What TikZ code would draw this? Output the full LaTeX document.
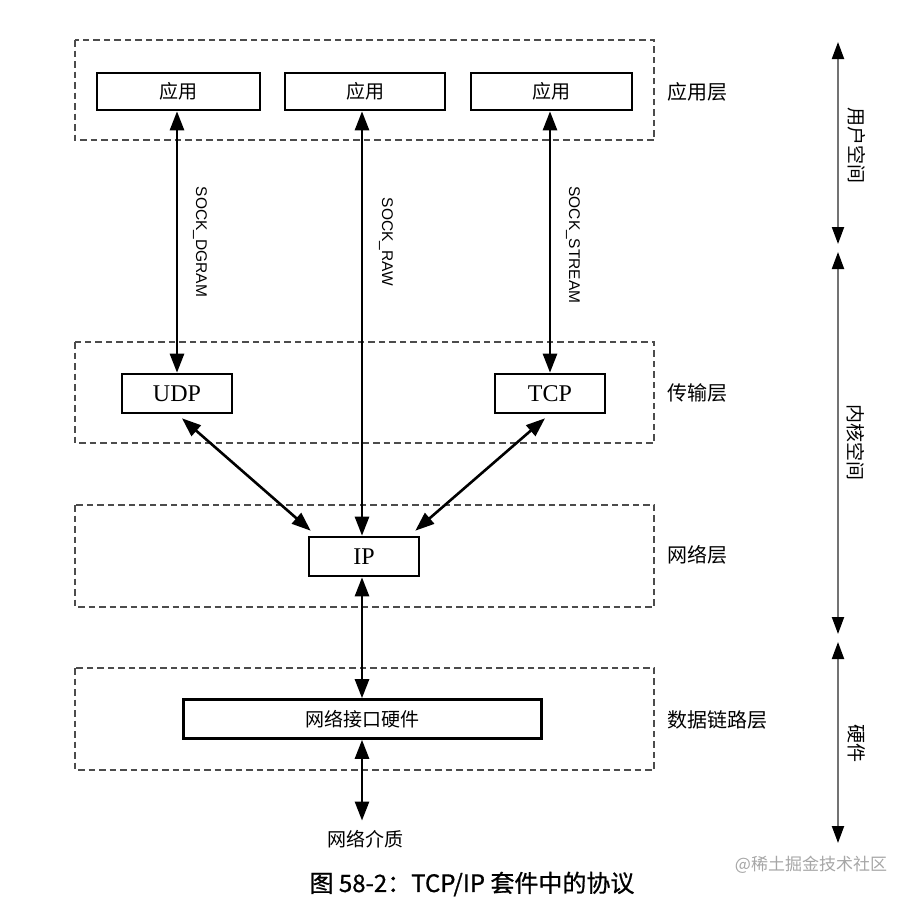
\documentclass[tikz,border=0pt]{standalone}
\usepackage{fontspec}
\setmainfont{Liberation Serif}
\newfontfamily\cjk{Noto Sans CJK SC}
\newfontfamily\cjkcap{Noto Sans CJK SC}[FakeBold=0.8]
\newfontfamily\sockf{Liberation Sans}
\usetikzlibrary{arrows.meta,calc}
\begin{document}
\begin{tikzpicture}[x=1pt,y=-1pt,
  layer/.style={draw=black!70, line width=1.3pt, dash pattern=on 6.5pt off 4pt},
  box/.style={draw, line width=2.6pt, inner sep=0pt, fill=white},
  cn/.style={font=\cjk\fontsize{19}{19}\selectfont},
  lat/.style={font=\fontsize{24}{24}\selectfont},
  sock/.style={font=\sockf\fontsize{15.5}{15.5}\selectfont, rotate=-90},
  lyr/.style={font=\cjk\fontsize{20}{20}\selectfont, anchor=west},
  side/.style={font=\cjk\fontsize{19}{19}\selectfont, rotate=-90},
  arr/.style={line width=2.6pt, {Triangle[length=19pt,width=14pt]}-{Triangle[length=19pt,width=14pt]}},
  garr/.style={line width=2pt, draw=black!55, {Triangle[length=17pt,width=12pt,color=black]}-{Triangle[length=17pt,width=12pt,color=black]}}
]
\useasboundingbox (0,0) rectangle (916,900);
% layers
\draw[layer] (75,40) rectangle (654,140);
\draw[layer] (75,342) rectangle (654,443);
\draw[layer] (75,505) rectangle (654,607);
\draw[layer] (75,668) rectangle (654,770);
% boxes
\node[box, cn, minimum width=163pt, minimum height=37pt] (app1) at (178.5,91.5) {应用};
\node[box, cn, minimum width=160pt, minimum height=37pt] (app2) at (365,91.5) {应用};
\node[box, cn, minimum width=161pt, minimum height=37pt] (app3) at (551.5,91.5) {应用};
\node[box, lat, minimum width=110pt, minimum height=39pt] (udp) at (177,393.5) {UDP};
\node[box, lat, minimum width=110pt, minimum height=39pt] (tcp) at (550,393.5) {TCP};
\node[box, lat, minimum width=110pt, minimum height=39pt] (ip) at (364,556.5) {IP};
\node[box, cn, minimum width=358pt, minimum height=39pt] (nic) at (362.5,719) {网络接口硬件};
\node[cn] (media) at (365,839) {网络介质};
% arrows
\draw[arr] (app1.south -| udp.north) -- (udp.north);
\draw[arr] (app2.south -| 362,0) -- (ip.north -| 362,0);
\draw[arr] (app3.south -| tcp.north) -- (tcp.north);
\draw[arr] ($(udp.south)+(5,4)$) -- ($(ip.north west)+(3,-5)$);
\draw[arr] ($(tcp.south)+(-5,4)$) -- ($(ip.north east)+(-5,-5)$);
\draw[arr] (ip.south -| 362,0) -- (nic.north -| 362,0);
\draw[arr] (nic.south -| 362,0) -- ($(media.north -| 362,0)+(0,-6)$);
% sock labels
\node[sock] (l1) at (200,242) {SOCK\_DGRAM};
\node[sock] (l2) at (386,242) {SOCK\_RAW};
\node[sock] (l3) at (573,245) {SOCK\_STREAM};
% layer labels
\node[lyr] (n1) at (664,92) {应用层};
\node[lyr] (n2) at (664,393) {传输层};
\node[lyr] (n3) at (664,555) {网络层};
\node[lyr] (n4) at (664,720) {数据链路层};
% side axis
\coordinate (s1a) at (838,42);
\coordinate (s1b) at (838,244);
\coordinate (s2a) at (838,252);
\coordinate (s2b) at (838,634);
\coordinate (s3a) at (838,642);
\coordinate (s3b) at (838,843);
\draw[garr] (s1a) -- (s1b);
\draw[garr] (s2a) -- (s2b);
\draw[garr] (s3a) -- (s3b);
\node[side] (u1) at (857,145) {用户空间};
\node[side] (u2) at (856,442) {内核空间};
\node[side] (u3) at (857,743) {硬件};
% caption
\node[font=\cjkcap\fontsize{24}{24}\selectfont] (cap) at (472,884) {图 58-2：TCP/IP 套件中的协议};
\node[font=\cjk\fontsize{17}{17}\selectfont, text=black!35] (wm) at (811,865) {@稀土掘金技术社区};
\end{tikzpicture}
\end{document}
